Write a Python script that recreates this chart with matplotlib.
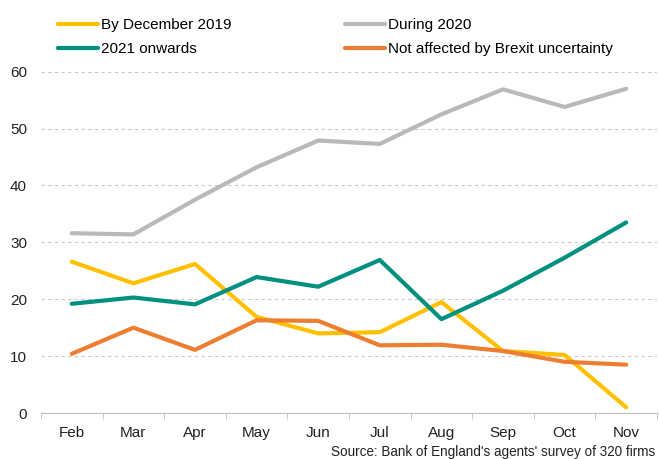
import matplotlib.pyplot as plt

plt.rcParams['font.family'] = ['Liberation Sans', 'DejaVu Sans']

months = ["Feb", "Mar", "Apr", "May", "Jun", "Jul", "Aug", "Sep", "Oct", "Nov"]
by_dec_2019 = [26.6, 22.8, 26.2, 16.9, 14.0, 14.2, 19.5, 10.9, 10.2, 1.0]
during_2020 = [31.6, 31.4, 37.5, 43.2, 47.9, 47.3, 52.5, 56.9, 53.8, 57.0]
onwards_2021 = [19.2, 20.3, 19.1, 23.9, 22.2, 26.9, 16.5, 21.5, 27.3, 33.5]
not_affected = [10.4, 15.0, 11.1, 16.3, 16.2, 11.9, 12.0, 10.9, 9.0, 8.5]

fig = plt.figure(figsize=(6.59, 4.59), dpi=100)
ax = fig.add_axes([0.0622, 0.1002, 0.9348, 0.7436])

x = range(len(months))
lw = 3
l1, = ax.plot(x, by_dec_2019, color="#FFC000", lw=lw, solid_capstyle="round", label="By December 2019")
l2, = ax.plot(x, during_2020, color="#B9B9B9", lw=lw, solid_capstyle="round", label="During 2020")
l3, = ax.plot(x, onwards_2021, color="#00907F", lw=lw, solid_capstyle="round", label="2021 onwards")
l4, = ax.plot(x, not_affected, color="#ED7D31", lw=lw, solid_capstyle="round", label="Not affected by Brexit uncertainty")

ax.set_xlim(-0.5, len(months) - 0.5)
ax.set_ylim(0, 60)
ax.set_yticks(range(0, 61, 10))
ax.set_xticks(list(x))
ax.set_xticklabels(months)
ax.set_xticks([i - 0.5 for i in range(len(months) + 1)], minor=True)
ax.tick_params(axis="x", which="major", length=0, pad=9, labelsize=11, colors="#222222")
ax.tick_params(axis="x", which="minor", length=4, color="#BFBFBF", direction="out")
ax.tick_params(axis="y", length=0, pad=10, labelsize=11, colors="#222222")

ax.yaxis.grid(True, linestyle=(0, (3, 3)), color="#C8C8C8", linewidth=0.8)
ax.set_axisbelow(True)
for s in ["top", "right", "left"]:
    ax.spines[s].set_visible(False)
ax.spines["bottom"].set_color("#BFBFBF")

fig.legend(handles=[l1, l3, l2, l4], ncol=2, loc="upper left",
           bbox_to_anchor=(0.088, 0.96), frameon=False, fontsize=11,
           handlelength=2.6, handletextpad=0.2, columnspacing=7.45,
           labelspacing=0.65, borderaxespad=0, borderpad=0)

fig.text(0.994, 0.0, "Source: Bank of England's agents' survey of 320 firms",
         ha="right", va="bottom", fontsize=9.75, color="#222222")

fig.savefig("out.png", dpi=100)
